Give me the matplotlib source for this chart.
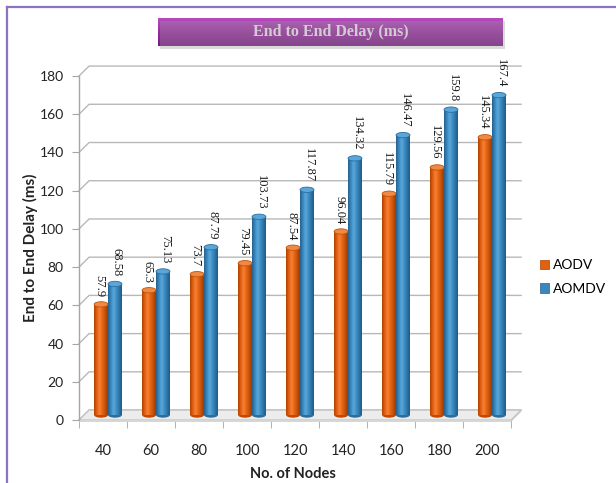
import numpy as np
import matplotlib
matplotlib.use("Agg")
import matplotlib.pyplot as plt
from matplotlib.colors import LinearSegmentedColormap
from matplotlib.patches import Polygon, Ellipse, Rectangle, Patch
from matplotlib.lines import Line2D

# ---- data ----
nodes = ["40", "60", "80", "100", "120", "140", "160", "180", "200"]
aodv = [57.9, 65.3, 73.7, 79.45, 87.54, 96.04, 115.79, 129.56, 145.34]
aomdv = [68.58, 75.13, 87.79, 103.73, 117.87, 134.32, 146.47, 159.8, 167.4]
aodv_labels = ["57.9", "65.3", "73.7", "79.45", "87.54", "96.04", "115.79", "129.56", "145.34"]
aomdv_labels = ["68.58", "75.13", "87.79", "103.73", "117.87", "134.32", "146.47", "159.8", "167.4"]
series_names = ["AODV", "AOMDV"]
y_ticks = list(range(0, 181, 20))

W, H = 616, 483
fig = plt.figure(figsize=(W / 100, H / 100), dpi=100)
fig.patch.set_facecolor("white")

SANS = ["Lato", "DejaVu Sans"]
SERIF = ["Liberation Serif", "DejaVu Serif"]

# front plane of the 3-D box
ax = fig.add_axes([79 / W, 63 / H, 432 / W, 344 / H])
n = len(nodes)
ax.set_xlim(-0.5, n - 0.5)
ax.set_ylim(0, 180)
for s in ["top", "right", "bottom"]:
    ax.spines[s].set_visible(False)
ax.spines["left"].set_color("#a6a6a6")
ax.spines["left"].set_linewidth(1.0)
ax.patch.set_visible(False)

# depth of the box in data units
DX, DY = 0.21, 5.2
grid_c = "#b8b8b8"

# back wall gridlines with their diagonal connectors
for yv in y_ticks:
    ax.plot([-0.5, -0.5 + DX, n - 0.5 + DX], [yv, yv + DY, yv + DY],
            color=grid_c, lw=1.0, clip_on=False, zorder=1)

# floor slab
floor = Polygon([(-0.5, 0), (n - 0.5, 0), (n - 0.5 + DX, DY), (-0.5 + DX, DY)],
                closed=True, facecolor="#ececec", edgecolor="#bcbcbc", lw=0.8,
                clip_on=False, zorder=2)
ax.add_patch(floor)
slab = Polygon([(-0.5, 0), (n - 0.5, 0), (n - 0.5, -1.0), (-0.5, -1.0)],
               closed=True, facecolor="#d6d6d6", edgecolor="none",
               clip_on=False, zorder=2)
ax.add_patch(slab)
slab_side = Polygon([(n - 0.5, 0), (n - 0.5 + DX, DY), (n - 0.5 + DX, DY - 1.0), (n - 0.5, -1.0)],
                    closed=True, facecolor="#cacaca", edgecolor="none",
                    clip_on=False, zorder=2)
ax.add_patch(slab_side)

# cylinder shading
orange_cmap = LinearSegmentedColormap.from_list(
    "or", ["#b04200", "#e2600f", "#f58234", "#e6641a", "#c65206", "#a03a00"])
blue_cmap = LinearSegmentedColormap.from_list(
    "bl", ["#24628f", "#3a86bd", "#5aa8dc", "#3f8fc6", "#2f76a8", "#215a84"])
cap_colors = [("#ee8a45", "#c25308"), ("#5aa6d8", "#2d6e9c")]
grad = np.linspace(0, 1, 64).reshape(1, -1)

bw = 0.29
offsets = [-bw / 2, bw / 2]
label_shift = [-0.04, 0.04]
cap_h = 2.8
all_vals = [aodv, aomdv]
all_labels = [aodv_labels, aomdv_labels]
cmaps = [orange_cmap, blue_cmap]

for si in range(2):
    vals = all_vals[si]
    for i, v in enumerate(vals):
        xc = i + offsets[si] + DX / 2
        base = DY / 2
        # rounded bottom
        bot = Ellipse((xc, base), bw, cap_h, facecolor=cmaps[si](0.85),
                      edgecolor="none", zorder=3 + si)
        ax.add_patch(bot)
        body = ax.bar(xc, v, width=bw, bottom=base, color=cmaps[si](0.4),
                      edgecolor="none", zorder=3 + si)[0]
        img = ax.imshow(grad, cmap=cmaps[si], aspect="auto",
                        extent=(xc - bw / 2, xc + bw / 2, base, base + v),
                        zorder=3 + si, interpolation="bilinear")
        img.set_clip_path(body)
        top = Ellipse((xc, base + v), bw, cap_h, facecolor=cap_colors[si][0],
                      edgecolor=cap_colors[si][1], lw=0.6, zorder=3.5 + si)
        ax.add_patch(top)
        ax.text(xc + label_shift[si], base + v + cap_h / 2 + 2.6, all_labels[si][i],
                rotation=270, ha="center", va="bottom", fontsize=9,
                family=SERIF, color="#1a1a1a", zorder=6)

ax.set_xlim(-0.5, n - 0.5)
ax.set_ylim(0, 180)

# ticks and labels
ax.set_yticks(y_ticks)
ax.set_yticklabels([str(t) for t in y_ticks], family=SANS, fontsize=10, color="#222222")
ax.tick_params(axis="y", direction="out", length=5, color="#a6a6a6", pad=6)
ax.set_xticks(range(n))
ax.set_xticklabels(nodes, family=SANS, fontsize=10.5, color="#222222")
ax.set_xticks(np.arange(-0.5, n, 1.0), minor=True)
ax.tick_params(axis="x", which="major", length=0, pad=17)
ax.tick_params(axis="x", which="minor", direction="out", length=6, color="#a6a6a6")

ax.set_xlabel("No. of Nodes", family=SANS, fontsize=10.5, fontweight="bold",
              color="#222222")
ax.xaxis.set_label_coords((293 - 79) / 432, -47 / 344)
ax.set_ylabel("End to End Delay (ms)", family=SANS, fontsize=11, fontweight="bold",
              color="#222222")
ax.yaxis.set_label_coords((38 - 79) / 432, (420 - 248) / 344)

# legend
handles = [Patch(facecolor="#e2600f", edgecolor="#b04200", lw=0.5),
           Patch(facecolor="#3a86bd", edgecolor="#24628f", lw=0.5)]
fig.legend(handles, series_names, loc="center left",
           bbox_to_anchor=(540 / W, 1 - 277 / H),
           frameon=False, borderpad=0, borderaxespad=0,
           handlelength=0.65, handleheight=0.65, handletextpad=0.3,
           labelspacing=0.85, prop={"family": SANS, "size": 10})

# title banner with drop shadow
shadow = Rectangle((160 / W, 1 - 49 / H), 345 / W, 28 / H, transform=fig.transFigure,
                   facecolor="#999999", alpha=0.35, edgecolor="none", zorder=1)
fig.add_artist(shadow)
tax = fig.add_axes([158 / W, 1 - 46 / H, 345 / W, 28 / H])
title_cmap = LinearSegmentedColormap.from_list("tt", ["#7a1a84", "#9a2aa2", "#b84ac0"])
tax.imshow(np.linspace(0, 1, 64).reshape(-1, 1), cmap=title_cmap, aspect="auto",
           origin="lower", extent=(0, 1, 0, 1))
tax.set_xlim(0, 1)
tax.set_ylim(0, 1)
tax.axis("off")
tax.text(0.5, 0.5, "End to End Delay (ms)", ha="center", va="center",
         family=SERIF, fontweight="bold", fontsize=11.5, color="#f6e6f6")

# outer frame
frame_c = "#8c72c0"
fig.add_artist(Line2D([7 / W, 1], [1 - 7 / H, 1 - 7 / H], transform=fig.transFigure,
                      color=frame_c, lw=1.6))
fig.add_artist(Line2D([7 / W, 7 / W], [0, 1 - 7 / H], transform=fig.transFigure,
                      color=frame_c, lw=1.6))

fig.savefig("out.png", dpi=100)
